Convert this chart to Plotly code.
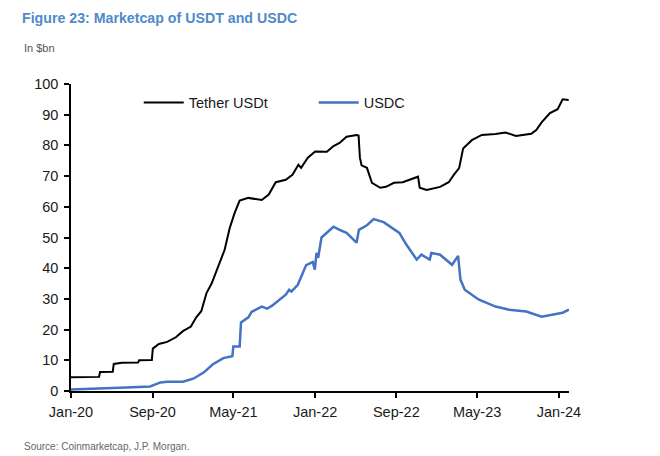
import plotly.graph_objects as go

# Tether USDt market cap, $bn
usdt_dates = [
    "2020-01-01", "2020-03-25", "2020-03-28", "2020-05-05", "2020-05-08", "2020-06-01",
    "2020-07-20", "2020-07-23", "2020-08-30", "2020-09-02", "2020-09-20", "2020-10-15",
    "2020-11-10", "2020-12-01", "2020-12-25", "2021-01-10", "2021-01-25", "2021-02-10",
    "2021-02-25", "2021-03-15", "2021-04-05", "2021-04-20", "2021-05-05", "2021-05-20",
    "2021-06-15", "2021-07-25", "2021-08-15", "2021-09-05", "2021-10-05", "2021-10-25",
    "2021-11-12", "2021-11-20", "2021-12-10", "2022-01-01", "2022-02-05", "2022-02-25",
    "2022-03-15", "2022-04-05", "2022-05-05", "2022-05-11", "2022-05-15", "2022-05-20",
    "2022-06-05", "2022-06-20", "2022-07-15", "2022-08-01", "2022-08-25", "2022-09-20",
    "2022-10-25", "2022-11-05", "2022-11-10", "2022-12-01", "2023-01-10", "2023-02-05",
    "2023-02-20", "2023-03-08", "2023-03-20", "2023-04-15", "2023-05-15", "2023-06-25",
    "2023-07-25", "2023-08-25", "2023-10-10", "2023-10-25", "2023-11-10", "2023-12-05",
    "2023-12-28", "2024-01-12", "2024-01-30",
]
usdt_values = [
    4.5, 4.6, 6.2, 6.3, 8.8, 9.2,
    9.3, 10.0, 10.1, 13.8, 15.3, 16.0,
    17.5, 19.5, 21.0, 24.0, 26.0, 32.0,
    35.0, 40.0, 46.0, 53.0, 58.0, 62.0,
    62.9, 62.2, 64.0, 68.0, 68.8, 70.4,
    73.7, 72.7, 76.0, 78.0, 77.9, 79.8,
    80.8, 82.8, 83.4, 83.2, 76.0, 73.5,
    72.7, 67.8, 66.2, 66.5, 67.8, 68.0,
    69.2, 69.8, 66.2, 65.5, 66.5, 68.0,
    70.4, 72.6, 79.0, 81.7, 83.4, 83.7,
    84.2, 83.1, 83.8, 85.0, 87.5, 90.5,
    91.8, 95.0, 94.8,
]

# USDC market cap, $bn
usdc_dates = [
    "2020-01-01", "2020-04-01", "2020-06-15", "2020-08-25", "2020-09-25", "2020-10-15",
    "2020-12-01", "2021-01-01", "2021-02-01", "2021-03-01", "2021-04-01", "2021-04-28",
    "2021-05-01", "2021-05-20", "2021-05-24", "2021-06-15", "2021-06-25", "2021-07-25",
    "2021-08-10", "2021-08-25", "2021-10-05", "2021-10-15", "2021-10-22", "2021-11-10",
    "2021-12-05", "2021-12-25", "2021-12-31", "2022-01-05", "2022-01-10", "2022-01-20",
    "2022-02-25", "2022-03-15", "2022-04-05", "2022-05-05", "2022-05-12", "2022-06-05",
    "2022-06-25", "2022-07-25", "2022-08-20", "2022-09-10", "2022-10-01", "2022-11-01",
    "2022-11-15", "2022-12-10", "2022-12-15", "2023-01-10", "2023-02-15", "2023-03-05",
    "2023-03-12", "2023-03-25", "2023-05-05", "2023-06-25", "2023-08-05", "2023-09-25",
    "2023-11-10", "2023-12-12", "2024-01-12", "2024-01-31",
]
usdc_values = [
    0.5, 0.7, 1.1, 1.5, 2.8, 3.0,
    3.0, 4.0, 6.0, 8.7, 10.7, 11.3,
    14.5, 14.5, 22.3, 24.0, 25.8, 27.5,
    26.8, 27.8, 31.4, 33.0, 32.4, 34.6,
    41.0, 42.0, 39.5, 45.0, 43.4, 50.0,
    53.5, 52.5, 51.5, 48.3, 52.5, 54.0,
    56.0, 55.0, 53.0, 51.5, 47.7, 42.8,
    44.4, 42.8, 45.0, 44.4, 41.1, 44.0,
    36.3, 33.0, 29.8, 27.5, 26.5, 25.9,
    24.2, 24.9, 25.5, 26.5,
]

FONT = "Liberation Sans, Arial, sans-serif"

fig = go.Figure()
fig.add_trace(go.Scatter(
    x=usdt_dates, y=usdt_values, mode="lines", name="Tether USDt",
    line=dict(color="#000000", width=2),
))
fig.add_trace(go.Scatter(
    x=usdc_dates, y=usdc_values, mode="lines", name="USDC",
    line=dict(color="#4472C4", width=2.5),
))

# page body has an 8px margin, so the figure is a bit smaller than the window
fig.update_layout(
    width=652, height=448,
    margin=dict(l=63, r=91, t=76, b=65),
    paper_bgcolor="white", plot_bgcolor="white",
    font=dict(family=FONT, size=14.5, color="#1a1a1a"),
    showlegend=True,
    legend=dict(
        orientation="h", x=0.136, y=0.992, xanchor="left", yanchor="top",
        bgcolor="rgba(0,0,0,0)", font=dict(size=14.5, color="#1a1a1a"),
        entrywidth=120, itemwidth=40,
    ),
    xaxis=dict(
        type="date", range=["2020-01-01", "2024-01-31"],
        tick0="2020-01-01", dtick="M8", tickformat="%b-%y",
        showgrid=False, zeroline=False,
        showline=True, linecolor="#000000", linewidth=1.5,
        ticks="outside", ticklen=5, tickcolor="#000000", tickwidth=1.5,
        ticklabelstandoff=2,
    ),
    yaxis=dict(
        range=[0, 100], dtick=10,
        showgrid=False, zeroline=False,
        showline=True, linecolor="#000000", linewidth=1.5,
        ticks="outside", ticklen=5, tickcolor="#000000", tickwidth=1.5,
        ticklabelstandoff=3,
    ),
)

fig.add_annotation(text="<b>Figure 23: Marketcap of USDT and USDC</b>", xref="paper", yref="paper",
                   x=-0.102, y=1.215, xanchor="left", yanchor="middle", showarrow=False,
                   font=dict(family=FONT, size=14.2, color="#4f8ac9"))
fig.add_annotation(text="In $bn", xref="paper", yref="paper", x=-0.098, y=1.117,
                   xanchor="left", yanchor="middle", showarrow=False,
                   font=dict(family=FONT, size=11, color="#555555"))
fig.add_annotation(text="Source: Coinmarketcap, J.P. Morgan.", xref="paper", yref="paper",
                   x=-0.098, y=-0.182, xanchor="left", yanchor="middle", showarrow=False,
                   font=dict(family=FONT, size=10, color="#666666"))

fig.write_html("out.html")
